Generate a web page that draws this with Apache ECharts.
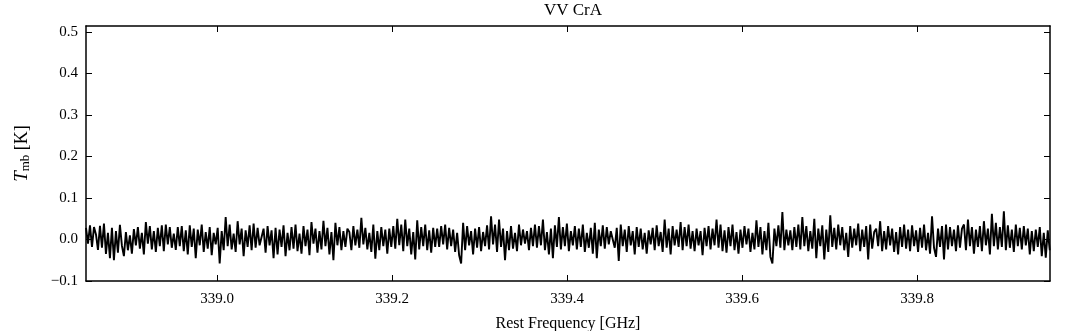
<!DOCTYPE html>
<html>
<head>
<meta charset="utf-8">
<title>VV CrA</title>
<script src="https://cdn.jsdelivr.net/npm/echarts@6/dist/echarts.min.js"></script>
<style>
  html, body { margin: 0; padding: 0; background: #fff; }
  #chart { width: 1072px; height: 331px; }
</style>
</head>
<body>
<div id="chart"></div>
<script>
// spectrum of VV CrA, channel grid
const freqStart = 338.85    // GHz, first channel
const freqStep = 0.002281   // GHz per channel
// T_mb per channel, in mK
const tmbMilliK = [
  28,-10,34,-18,30,12,-25,33,-20,38,-35,16,-45,28,-50,20,-32,35,-15,-40,18,-26,10,-34,25,-14,30,-22,16,-36,42,-10,32,-24,20,-30,28,-16,34,-28,36,-12,30,-20,
  14,-25,30,-16,32,-28,22,-36,34,-18,26,-45,24,-14,36,-30,18,-22,30,-38,16,-12,28,-58,20,-26,54,-16,36,-24,14,-30,44,-12,26,-40,22,-18,34,-26,38,-20,28,-14,
  -16,26,-32,32,-14,22,-45,28,-36,24,-18,34,-40,16,-26,30,-22,36,-28,14,-34,32,-16,24,-38,42,-10,26,-32,20,-24,45,-16,28,-36,18,-50,40,-14,30,-26,20,-18,26,
  18,-26,32,-14,24,-20,52,-12,28,-24,16,-30,36,-46,20,-26,30,-16,24,-34,26,-18,32,-22,50,-14,36,-28,48,-16,26,-36,18,-48,46,-24,30,-16,36,-26,22,-32,28,-18,
  26,-18,32,-12,36,-24,28,-16,24,-30,16,-38,-58,40,-26,32,-14,20,-36,26,-20,30,-28,18,-16,34,-24,56,-12,36,-30,48,-18,26,-50,20,-26,32,-22,16,-28,36,-14,24,
  -10,20,-26,28,-16,36,-20,32,-14,48,-26,18,-36,26,-45,34,-18,54,-24,30,-16,38,-28,20,-14,32,-24,26,-18,36,-30,16,-20,28,-34,40,-45,24,-16,34,-22,30,-12,20,
  16,-20,28,-52,36,-16,24,-30,32,-14,20,-36,30,-18,26,-24,16,-34,22,-12,28,-26,34,-16,18,-30,48,-20,26,-36,32,-14,24,-18,42,-26,30,-16,36,-22,20,-28,26,-14,
  20,-38,28,-16,32,-24,26,-14,48,-20,36,-28,22,-32,30,-16,36,-26,18,-34,24,-20,32,-12,26,-30,16,-24,46,-18,30,-36,20,-26,40,-42,-58,26,-16,34,-20,66,-26,24,
  -14,22,-26,30,-18,36,-24,54,-16,32,-28,20,-22,50,-45,26,-16,34,-48,24,-30,58,-18,28,-24,36,-14,30,-26,16,-42,32,-20,26,-14,38,-28,24,-18,32,-48,36,-22,18,
  26,-16,44,-28,20,-24,32,-14,26,-30,18,-36,30,-18,36,-22,24,-28,34,-16,22,-30,28,-20,36,-26,16,-34,56,-20,-42,26,-18,32,-48,36,-24,30,-16,24,-28,34,-20,26,
  36,-26,48,-16,30,-34,24,-18,32,-28,44,-14,26,-36,62,-16,40,-24,30,-18,68,-26,34,-20,24,-30,36,-16,28,-24,32,-14,26,-36,20,-28,24,-18,30,-40,16,-44,22,-26
]
const xMin = 338.85, xMax = 339.952
const yMin = -0.1, yMax = 0.514
const xTicks = [339.0, 339.2, 339.4, 339.6, 339.8]
const yTicks = [-0.1, 0.0, 0.1, 0.2, 0.3, 0.4, 0.5]

let points = tmbMilliK.map((v, i) => [freqStart + i * freqStep, v / 1000])

const font = 'Liberation Serif'
const black = '#000'

let chart = echarts.init(document.getElementById('chart'))

// matplotlib-like frame: black spines, ticks pointing in
let frameAxis = (ticks) => ({
  axisLine: { show: true, onZero: false, lineStyle: { color: black, width: 1.5 } },
  axisTick: { show: true, inside: true, length: 6, lineStyle: { color: black, width: 1 }, customValues: ticks },
  splitLine: { show: false }
})

let option = {
  animation: false,
  title: {
    text: 'VV CrA',
    left: 568,
    top: -3,
    textAlign: 'center',
    textStyle: { fontFamily: font, fontSize: 17, fontWeight: 'normal', color: black }
  },
  grid: { left: 86, right: 22, top: 26, bottom: 50, outerBoundsMode: 'none', containLabel: false },
  xAxis: [
    Object.assign(frameAxis(xTicks), {
      type: 'value', min: xMin, max: xMax,
      position: 'bottom',
      name: 'Rest Frequency [GHz]',
      nameLocation: 'middle',
      nameGap: 35,
      nameTextStyle: { fontFamily: font, fontSize: 16, color: black },
      axisLabel: {
        fontFamily: font, fontSize: 15, color: black, margin: 11,
        customValues: xTicks,
        formatter: v => v.toFixed(1)
      }
    }),
    Object.assign(frameAxis(xTicks), {
      type: 'value', min: xMin, max: xMax,
      position: 'top',
      axisLabel: { show: false }
    })
  ],
  yAxis: [
    Object.assign(frameAxis(yTicks), {
      type: 'value', min: yMin, max: yMax,
      position: 'left',
      name: '{t|T}{s|mb} [K]',
      nameLocation: 'middle',
      nameRotate: 90,
      nameGap: 54,
      nameTextStyle: {
        fontFamily: font, fontSize: 18, color: black,
        rich: {
          t: { fontFamily: font, fontSize: 19, fontStyle: 'italic', color: black },
          s: { fontFamily: font, fontSize: 13, color: black, verticalAlign: 'bottom', padding: [7, 0, 0, 0] }
        }
      },
      axisLabel: {
        fontFamily: font, fontSize: 15, color: black, margin: 8,
        customValues: yTicks,
        formatter: v => (v < 0 ? '\u2212' : '') + Math.abs(v).toFixed(1)
      }
    }),
    Object.assign(frameAxis(yTicks), {
      type: 'value', min: yMin, max: yMax,
      position: 'right',
      axisLabel: { show: false }
    })
  ],
  series: [
    {
      type: 'line',
      data: points,
      xAxisIndex: 0,
      yAxisIndex: 0,
      showSymbol: false,
      symbol: 'none',
      lineStyle: { color: black, width: 1.9 },
      clip: true
    }
  ]
}
chart.setOption(option)
</script>
</body>
</html>
